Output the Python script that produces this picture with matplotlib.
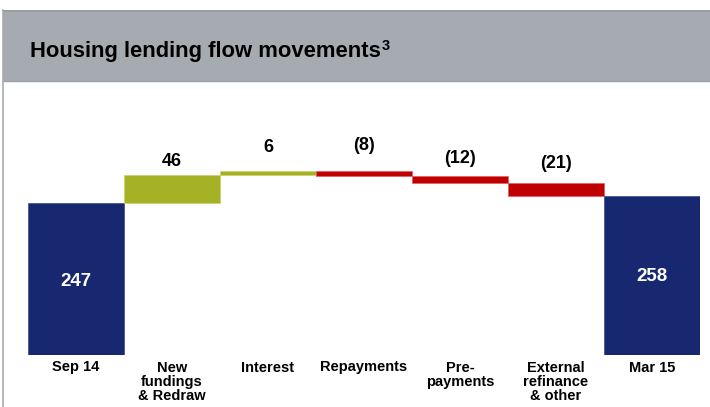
import matplotlib
matplotlib.use("Agg")
import matplotlib.pyplot as plt
from matplotlib.patches import Rectangle
from matplotlib.lines import Line2D

plt.rcParams['font.family'] = ['Liberation Sans', 'DejaVu Sans']

# ---- data ----
categories = ["Sep 14", "New\nfundings\n& Redraw", "Interest", "Repayments",
              "Pre-\npayments", "External\nrefinance\n& other", "Mar 15"]
start_value = 247
movements = [46, 6, -8, -12, -21]
end_value = 258
value_labels = ["247", "46", "6", "(8)", "(12)", "(21)", "258"]
title = "Housing lending flow movements"
footnote_mark = "3"

# ---- style ----
NAVY = "#172770"
OLIVE = "#A6B226"
RED = "#C00000"
HEADER = "#A5ABB1"

W, H = 710, 407
fig = plt.figure(figsize=(W / 100, H / 100), dpi=100)
fig.patch.set_facecolor("white")

# header band
fig.patches.append(Rectangle((3 / W, 1 - 81 / H), 1, 71 / H, transform=fig.transFigure,
                             facecolor=HEADER, edgecolor="none", zorder=0))
fig.lines.append(Line2D([3 / W, 1], [1 - 10.5 / H] * 2, transform=fig.transFigure,
                        color="#969CA2", lw=1.2))
fig.lines.append(Line2D([3 / W, 1], [1 - 81 / H] * 2, transform=fig.transFigure,
                        color="#9AA0A6", lw=1.0))
fig.lines.append(Line2D([3 / W, 3 / W], [0, 1 - 10 / H], transform=fig.transFigure,
                        color="#A8ACB0", lw=1.2))
base_y = 1 - 57 / H
t = fig.text(30 / W, base_y, title, fontsize=15.8,
             fontweight="bold", color="black", va="baseline", ha="left")
fig.canvas.draw()
bb = t.get_window_extent(renderer=fig.canvas.get_renderer())
fig.text((bb.x1 + 1) / W, base_y + 7 / H, footnote_mark, fontsize=10.5,
         fontweight="bold", color="black", va="baseline", ha="left")

# chart axes: baseline at y=355 px from top, 0.6154 px per unit
ax_left, ax_right = 28, 700
base_px = 355
top_px = 100
scale = 0.6154
ax = fig.add_axes([ax_left / W, (H - base_px) / H, (ax_right - ax_left) / W,
                   (base_px - top_px) / H])
ax.set_xlim(-0.5, len(categories) - 0.5)
ax.set_ylim(0, (base_px - top_px) / scale)
ax.axis("off")

# bars
ax.bar(0, start_value, width=1.0, color=NAVY, edgecolor="#3A4A8A", linewidth=0.5)
running = start_value
tops = []
for i, m in enumerate(movements, start=1):
    lo, hi = min(running, running + m), max(running, running + m)
    col = OLIVE if m > 0 else RED
    edge = "#C8D06A" if m > 0 else "#E06060"
    ax.bar(i, hi - lo, bottom=lo, width=1.0, color=col, edgecolor=edge, linewidth=0.5)
    tops.append(hi)
    running += m
ax.bar(len(categories) - 1, end_value, width=1.0, color=NAVY, edgecolor="#3A4A8A",
       linewidth=0.5)

# value labels
ax.annotate(value_labels[0], (0, start_value / 2), xytext=(0, -3 * 0.72),
            textcoords="offset points", color="white", fontsize=13.5,
            fontweight="bold", ha="center", va="center")
ax.annotate(value_labels[-1], (len(categories) - 1, end_value / 2), xytext=(0, -1 * 0.72),
            textcoords="offset points", color="white", fontsize=13.5,
            fontweight="bold", ha="center", va="center")
label_offsets_px = [13, 23, 25, 17, 20]
for i, (tp, off) in enumerate(zip(tops, label_offsets_px), start=1):
    ax.annotate(value_labels[i], (i, tp), xytext=(0, off * 0.72), textcoords="offset points",
                ha="center", va="center", fontsize=13, fontweight="bold", color="black")

# category labels
for i, c in enumerate(categories):
    ax.annotate(c, (i, 0), xytext=(0, -5.5 * 0.72), textcoords="offset points",
                ha="center", va="top", fontsize=10.5, fontweight="bold",
                color="black", linespacing=1.02)

fig.savefig("out.png", dpi=100, facecolor="white")
